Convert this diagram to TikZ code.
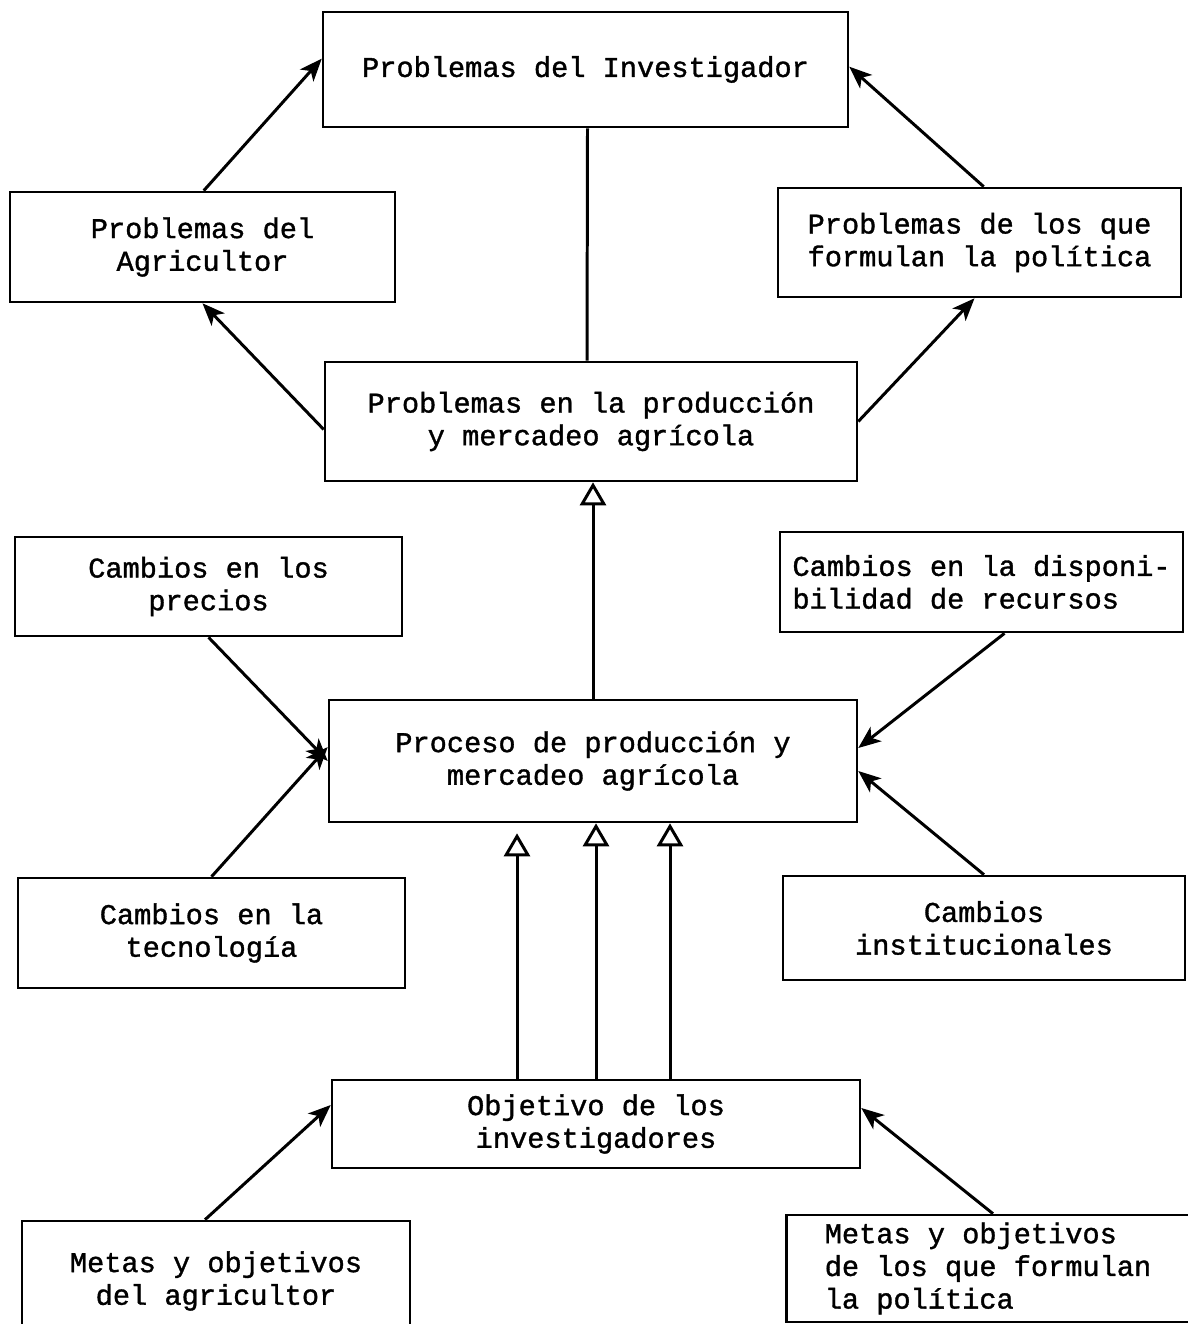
\documentclass[tikz,border=0pt]{standalone}
\usepackage{fontspec}
\setmonofont{Liberation Mono}[FakeBold=1.2]
\usetikzlibrary{arrows.meta,calc}
\begin{document}
\begin{tikzpicture}[
    x=0.02cm, y=-0.02cm,
    box/.style={draw, line width=1.5pt, inner sep=0pt, align=center,
      font=\ttfamily\fontsize{16.3}{18.6}\selectfont},
    flow/.style={line width=1.7pt, -{Stealth[length=4.5mm, width=3.6mm, inset=1.2mm]}},
    lift/.style={line width=1.7pt, -{Triangle[open, length=4.6mm, width=5.2mm]}}
  ]
  \useasboundingbox (0, 0) rectangle (1187, 1324);

  % problem boxes
  \node [box, minimum width=10.5cm, minimum height=2.3cm] (inv) at (585.5, 69.5) {Problemas del Investigador};
  \node [box, minimum width=7.7cm, minimum height=2.2cm] (agri) at (202.5, 247) {Problemas del\\Agricultor};
  \node [box, align=left, minimum width=8.06cm, minimum height=2.18cm] (pol) at (979.5, 242.5) {Problemas de los que\\formulan la política};
  \node [box, minimum width=10.64cm, minimum height=2.38cm] (prob) at (591, 421.5) {Problemas en la producción\\y mercadeo agrícola};

  % changes around the process
  \node [box, minimum width=7.74cm, minimum height=1.98cm] (prec) at (208.5, 586.5) {Cambios en los\\precios};
  \node [box, align=left, minimum width=8.06cm, minimum height=2cm] (disp) at (981.5, 582) {Cambios en la disponi-\\bilidad de recursos};
  \node [box, minimum width=10.56cm, minimum height=2.44cm] (proc) at (593, 761) {Proceso de producción y\\mercadeo agrícola};
  \node [box, minimum width=7.74cm, minimum height=2.2cm] (tec) at (211.5, 933) {Cambios en la\\tecnología};
  \node [box, minimum width=8.04cm, minimum height=2.08cm] (inst) at (984, 928) {Cambios\\institucionales};

  % goals
  \node [box, minimum width=10.56cm, minimum height=1.76cm] (obj) at (596, 1124) {Objetivo de los\\investigadores};
  \node [box, minimum width=7.76cm, minimum height=2.4cm] (metagr) at (216, 1281) {Metas y objetivos\\del agricultor};
  \node [box, align=left, minimum width=8.06cm, minimum height=2.14cm] (metpol) at (988, 1268.5) {Metas y objetivos\\de los que formulan\\la política};

  % upper connectors
  \draw [flow] ($(agri.north west)+(195, 0)$) -- ($(inv.north west)+(0, 48)$);
  \draw [flow] ($(pol.north west)+(207, 0)$) -- ($(inv.north east)+(0, 56)$);
  \draw [line width=1.7pt] ($(prob.north)+(-4, 0)$) -- ($(inv.south)+(2, 0)$);
  \draw [flow] ($(prob.west)+(0, 8)$) -- (agri.south);
  \draw [flow] (prob.east) -- ($(pol.south)+(-5, 0)$);
  \draw [lift] (proc.north) -- (proc.north |- prob.south);

  % changes into the process
  \draw [flow] (prec.south) -- (proc.west);
  \draw [flow] (tec.north) -- ($(proc.west)+(0, -14)$);
  \draw [flow] ($(disp.south)+(23, 0)$) -- ($(proc.east)+(0, -13)$);
  \draw [flow] (inst.north) -- ($(proc.east)+(0, 10)$);

  % goals into the process
  \foreach \dx/\gap in {-79/10, 0/0, 74/0} {
    \draw [lift] ($(obj.north)+(\dx, 0)$) -- ($(proc.south)+(\dx+3, \gap)$);
  }
  \draw [flow] ($(metagr.north)+(-11, 0)$) -- ($(obj.west)+(0, -19)$);
  \draw [flow] ($(metpol.north)+(5, 0)$) -- ($(obj.east)+(0, -16)$);
\end{tikzpicture}
\end{document}
